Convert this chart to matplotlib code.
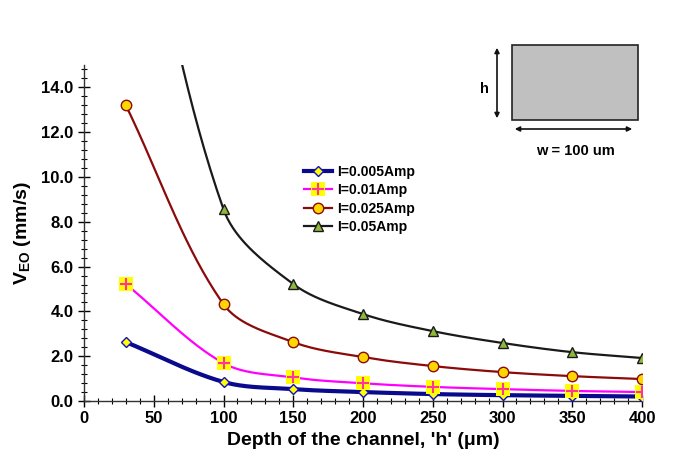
import numpy as np
import matplotlib
matplotlib.use("Agg")
import matplotlib.pyplot as plt
from matplotlib.ticker import MultipleLocator, FormatStrFormatter
from matplotlib.patches import Rectangle, FancyArrowPatch
from matplotlib.lines import Line2D

plt.rcParams['font.family'] = ['Liberation Sans', 'DejaVu Sans']
plt.rcParams['font.weight'] = 'bold'

# channel depth h (um) and electro-osmotic velocity (mm/s) per current
depth = [30, 100, 150, 200, 250, 300, 350, 400]
v_0005 = [2.63, 0.85, 0.53, 0.40, 0.31, 0.26, 0.23, 0.20]
v_001 = [5.22, 1.69, 1.05, 0.79, 0.63, 0.53, 0.45, 0.40]
v_0025 = [13.2, 4.32, 2.63, 1.96, 1.56, 1.29, 1.11, 0.98]
v_005 = [26.4, 8.56, 5.22, 3.88, 3.12, 2.59, 2.18, 1.92]
labels = ['I=0.005Amp', 'I=0.01Amp', 'I=0.025Amp', 'I=0.05Amp']

XMAX, YMAX = 400, 15


def smooth(x, y, n=40, sx=558 / XMAX, sy=336 / YMAX):
    # hermite curve through the points, tangents scaled by chord length
    # (measured in screen-like units so the bends look even)
    P = np.column_stack([np.asarray(x, float) * sx, np.asarray(y, float) * sy])
    d = np.hypot(*np.diff(P, axis=0).T)
    t = np.linspace(0, 1, n)[:, None]
    h00 = 2 * t**3 - 3 * t**2 + 1
    h10 = t**3 - 2 * t**2 + t
    h01 = -2 * t**3 + 3 * t**2
    h11 = t**3 - t**2
    pts = []
    for i in range(len(P) - 1):
        if i == 0:
            m0 = P[1] - P[0]
        else:
            m0 = (P[i + 1] - P[i - 1]) * d[i] / (d[i - 1] + d[i])
        if i == len(P) - 2:
            m1 = P[i + 1] - P[i]
        else:
            m1 = (P[i + 2] - P[i]) * d[i] / (d[i] + d[i + 1])
        pts.append(h00 * P[i] + h10 * m0 + h01 * P[i + 1] + h11 * m1)
    pts = np.vstack(pts)
    return pts[:, 0] / sx, pts[:, 1] / sy


fig = plt.figure(figsize=(6.73, 4.63), dpi=100)
ax = fig.add_axes([0.1248, 0.1339, 0.8292, 0.7257])

series = [
    (v_0005, '#0a0a8c', 3.0, dict(marker='D', ms=5.5, mfc='#ffff00', mec='#1010c0', mew=1.0)),
    (v_001, '#ff00ff', 1.6, dict(marker='s', ms=9.5, mfc='#ffff00', mec='#ffff00', mew=0)),
    (v_0025, '#8b0a0a', 1.6, dict(marker='o', ms=7.5, mfc='#ffd700', mec='#8b0a0a', mew=1.0)),
    (v_005, '#1a1a1a', 1.6, dict(marker='^', ms=7.5, mfc='#8fb83a', mec='#1a1a1a', mew=1.0)),
]

handles = []
for (vals, col, lw, mk), lab in zip(series, labels):
    cx, cy = smooth(depth, vals)
    ax.plot(cx, cy, color=col, lw=lw, zorder=2)
    ax.plot(depth, vals, ls='none', zorder=3, **mk)
    if lab == 'I=0.01Amp':
        ax.plot(depth, vals, ls='none', marker='+', ms=9, mew=1.5,
                color='#ff3399', zorder=4)
        h = (Line2D([], [], color=col, lw=lw, ls='-', **mk),
             Line2D([], [], ls='none', marker='+', ms=9, mew=1.5, color='#ff3399'))
    else:
        h = Line2D([], [], color=col, lw=lw, **mk)
    handles.append(h)

ax.legend(handles, labels, loc='upper left', bbox_to_anchor=(0.395, 0.703),
          frameon=False, fontsize=10, handlelength=2.0, handletextpad=0.35,
          labelspacing=0.32, borderpad=0, borderaxespad=0)

ax.set_xlim(0, XMAX)
ax.set_ylim(0, YMAX)
ax.xaxis.set_major_locator(MultipleLocator(50))
ax.xaxis.set_minor_locator(MultipleLocator(10))
ax.yaxis.set_minor_locator(MultipleLocator(0.4))
ax.yaxis.set_major_formatter(FormatStrFormatter('%.1f'))
ax.set_yticks(np.arange(0, 15, 2))
ax.tick_params(which='major', direction='inout', length=8, width=1, labelsize=12)
ax.tick_params(which='minor', direction='inout', length=4, width=0.8)
for s in ['top', 'right']:
    ax.spines[s].set_visible(False)
for s in ['left', 'bottom']:
    ax.spines[s].set_linewidth(1.0)
    ax.spines[s].set_color('#333333')
for lab in ax.get_xticklabels() + ax.get_yticklabels():
    lab.set_fontweight('bold')

ax.set_xlabel("Depth of the channel, 'h' (\u03bcm)", fontsize=14,
              fontweight='bold', labelpad=4)
ax.set_ylabel(r'V$_\mathregular{EO}$ (mm/s)', fontsize=14,
              fontweight='bold', labelpad=6)

# channel cross-section sketch
W, H = 673.0, 463.0
def fx(p):
    return p / W
def fy(p):
    return 1 - p / H

fig.patches.append(Rectangle((fx(512), fy(120)), (638 - 512) / W, (120 - 45) / H,
                             transform=fig.transFigure, facecolor='#c0c0c0',
                             edgecolor='#222222', lw=1.2))
fig.patches.append(FancyArrowPatch((fx(497), fy(45)), (fx(497), fy(121)),
                                   transform=fig.transFigure, arrowstyle='<|-|>',
                                   mutation_scale=7, color='#111111', lw=1.2))
fig.patches.append(FancyArrowPatch((fx(512), fy(129)), (fx(635), fy(129)),
                                   transform=fig.transFigure, arrowstyle='<|-|>',
                                   mutation_scale=7, color='#111111', lw=1.2))
fig.text(fx(484), fy(89), 'h', fontsize=10.5, fontweight='bold', ha='center', va='center')
fig.text(fx(575), fy(151), 'w = 100 um', fontsize=10.5, fontweight='bold',
         ha='center', va='center')

fig.savefig('out.png', dpi=100)
